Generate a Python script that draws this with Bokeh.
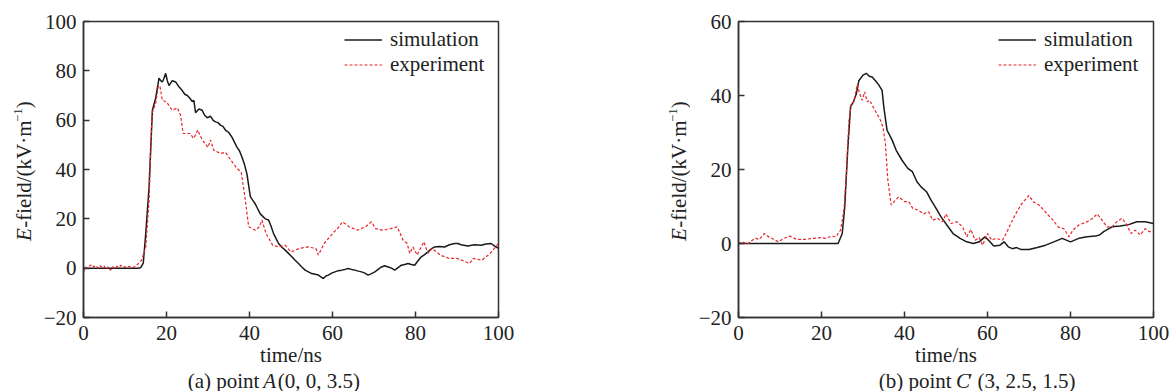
from bokeh.plotting import figure
from bokeh.layouts import row, column
from bokeh.models import Legend, LegendItem, Range1d, FixedTicker
from bokeh.core.properties import value
from bokeh.embed import file_html
from bokeh.resources import INLINE

# ---------------- data ----------------
x_ticks = [0, 20, 40, 60, 80, 100]
y_ticks_a = [-20, 0, 20, 40, 60, 80, 100]
y_ticks_b = [-20, 0, 20, 40, 60]

t_a_sim = [0, 13, 13.8, 14.4, 15, 15.8, 16.6, 17.4, 18.2, 18.6, 19, 19.4, 19.8, 20.2, 20.6, 21.4,
           22.2, 23, 23.8, 24.4, 25, 25.6, 26.2, 26.6, 27, 27.8, 28.6, 29.2, 29.8, 30.6, 31.2, 31.8,
           32.4, 33, 33.6, 34.2, 35, 35.8, 36.4, 37, 37.6, 38.2, 38.8, 39.4, 40.2, 40.8, 41.4, 42,
           42.6, 43.2, 43.8, 44.6, 45.2, 45.8, 46.4, 47, 47.8, 48.6, 49.4, 50.2, 51, 51.8, 52.6,
           53.4, 54.2, 55, 55.8, 56.6, 57.2, 57.8, 58.4, 59, 59.8, 60.6, 61.4, 62.2, 63, 63.8, 64.6,
           65.4, 66.2, 67, 67.8, 68.6, 69.4, 70.2, 71, 71.8, 72.6, 73.4, 74.2, 75, 75.8, 76.6, 77.4,
           78.2, 79, 79.8, 80.6, 81.4, 82.2, 83, 83.8, 84.6, 85.8, 87, 88.2, 89.4, 90.2, 91, 92.6,
           94.2, 95.8, 97, 98.2, 99, 100]
e_a_sim = [0, 0, 0.2, 2, 14, 33, 64, 69, 77, 76, 75.5, 77, 79, 76, 74, 76,
           75.5, 73.5, 72, 70.5, 70, 69, 67.5, 68, 63, 64.5, 64, 62, 61, 61.6, 60, 59.3,
           59, 58, 57.5, 56, 55, 53, 51, 49, 47.5, 45, 42, 38, 29, 27.5, 26, 24,
           22, 21, 20, 19.5, 17, 14, 12, 10, 8.5, 7.3, 6, 4.6, 3.2, 1.9, 0.5,
           -0.8, -1.5, -2.2, -2.5, -2.8, -3.5, -4.2, -3.2, -2.8, -2, -1.5, -1, -0.8, -0.5, -0.1, -0.5,
           -0.8, -1.2, -1.5, -2, -2.8, -2.2, -1.5, -0.5, 0.5, 1, 0.5, 0, -0.8, 0.2, 1.2, 1.5,
           1.9, 1.5, 1.2, 3, 4.6, 5.5, 6.6, 7.8, 8.6, 8.8, 8.6, 9.5, 10, 10, 9.5, 9,
           9.5, 9.3, 9.8, 10, 9, 8]

t_a_exp = [0, 0.5, 1, 1.5, 2, 2.5, 3, 3.5, 4, 4.5, 5, 5.5, 6, 6.5, 7, 7.5, 8, 8.5, 9, 9.5, 10,
           10.5, 11, 11.5, 12, 12.5, 13, 14, 15, 15.8, 16.5, 17.4, 18, 18.4, 19, 20, 21.4, 22.6,
           23.4, 24, 25.6, 26.6, 27.5, 28.6, 30, 30.6, 31.4, 33, 34.2, 35.5, 37, 38, 39, 39.8,
           41.4, 42.4, 43, 44, 45.6, 47, 48.6, 50, 52, 54, 56, 56.6, 58, 60, 61.6, 62.4, 64, 66,
           68, 69.4, 70.4, 72, 74, 75.6, 77, 78, 78.6, 79.4, 80.4, 82, 83, 84, 86, 88, 90, 92, 93,
           94, 96, 98, 100]
e_a_exp = [-1.5, 0.5, 0, 1, 1.5, 0.5, 1, 0, 1, 0.3, 0.8, -0.5, 0.5, -0.8, 0.6, 0, 0.8, 0.2, 1.2, 0.4, 0.6,
           0.2, 0.8, 0.4, 0.3, 0.8, 1.5, 3.2, 8.6, 27.6, 62.7, 66.8, 73.5, 74, 68, 67.4, 64, 65,
           62, 54.6, 54.6, 52.6, 56, 52, 49, 52, 47.8, 46.5, 47, 43.8, 40.4, 39, 27.6, 16.8,
           15.4, 16.8, 19.5, 14, 9.3, 8.6, 9.3, 6.6, 8, 8.6, 8, 5.3, 10, 14, 16.8, 18.8, 16.8, 15.4,
           16.8, 18.8, 16, 15.4, 16, 16.8, 11.4, 10, 6, 8.6, 5.3, 10.7, 6, 8, 5.3, 4, 4, 2.6, 1.9,
           4, 3.2, 6, 10]

t_b_sim = [0, 24, 25, 25.6, 26.3, 27, 27.7, 28.4, 29, 30, 30.8, 31.5, 32.2, 33, 33.7, 34.6, 35,
           35.8, 37, 38, 39.4, 40.8, 41.9, 43, 44, 45.3, 46.4, 47.4, 48.8, 50.2, 51.7, 53.4, 55,
           56.6, 58, 59.4, 60.6, 61.5, 63, 64, 65, 66, 67, 68, 70, 72, 74, 76, 78, 80, 82, 84, 86,
           87, 88, 90, 92, 94, 96, 98, 100]
e_b_sim = [0, 0, 2.7, 9.9, 25, 37, 38.3, 40.5, 44, 45.5, 46, 45.2, 45, 44, 43, 41.4, 37,
           30.6, 28, 25.2, 22.5, 20.3, 19.4, 16.7, 15.3, 14, 11.7, 9.9, 7.2, 5, 2.7, 1.4, 0.45,
           0, 0.45, 1.8, 0.45, -0.7, -0.45, 0.45, -0.9, -1.4, -1.1, -1.6, -1.6, -1.1, -0.45, 0.45,
           1.4, 0.45, 1.4, 1.8, 2, 2.3, 3.2, 4.5, 4.7, 5.1, 5.9, 5.9, 5.4]

t_b_exp = [0, 1, 2, 4, 5, 6.2, 7, 8, 9.6, 11, 12.4, 14, 16, 18, 20, 21, 22.4, 23.5, 24, 24.6,
           25.4, 26, 26.6, 27.2, 27.8, 28.2, 28.6, 29.2, 29.8, 30.4, 31, 31.6, 32.4, 33.4, 34.2,
           34.8, 35.4, 36, 36.8, 37.8, 38.6, 40, 41, 42, 43.4, 44.6, 45.8, 46.8, 48, 49.2, 50,
           51.2, 52.6, 54, 55, 56, 57, 58, 58.8, 60, 61, 62, 63.6, 64.5, 65.6, 66.8, 68, 69, 70,
           71, 72.4, 73.6, 74.6, 75.8, 77, 78.4, 79.6, 80.6, 82, 84, 85.4, 86.4, 87.6, 88.8, 90,
           91.2, 92.4, 93.4, 94.6, 95.6, 96.8, 98, 99, 100]
e_b_exp = [0, 0.5, -0.2, 1.4, 1.1, 2.7, 2, 1.4, 0.45, 1.4, 2, 1.1, 1.1, 1.4, 1.6, 1.4, 2, 1.8, 2.7, 3.6,
           9, 19, 33, 38, 38.3, 40.5, 43, 40.5, 38.7, 41, 38.3, 38.7, 37, 35, 33.3,
           31.5, 27, 17, 10.4, 11.7, 12.6, 11.3, 11.3, 9.5, 9, 8, 8.6, 6.3, 6.8, 5.9, 8,
           5.4, 5.9, 4.5, 1.8, 3.8, 0.9, 1.6, -0.45, 2.7, 0.9, 1.4, 0.9, 2.7, 5.4, 8, 10.4, 11.7, 13,
           11.3, 10.4, 9, 7.7, 6.3, 4.5, 4, 1.8, 3.6, 5, 5.9, 6.8, 8, 6.3, 4.5, 4.5,
           5.9, 6.8, 5.4, 2.7, 3.6, 2.3, 4, 3.2, 3.2]

series_labels = ["simulation", "experiment"]
y_title = ["E", "-field/(kV\u00b7m", "\u22121", ")"]
captions = [["(a) point", "A", "(0, 0, 3.5)"], ["(b) point", "C", "\u2032", "(3, 2.5, 1.5)"]]

# ---------------- style ----------------
FONT = "Liberation Serif"
FS = "21px"
SIM_COLOR = "#1a1a1a"
EXP_COLOR = "#e8262b"
AX_COLOR = "#333333"
TXT_COLOR = "#222222"
H = 391
PLOT_H = 369
CAP_H = H - PLOT_H


def blank_fig(w, h):
    f = figure(width=w, height=h, x_range=Range1d(0, w), y_range=Range1d(0, h),
               output_backend="svg", toolbar_location=None, x_axis_type=None, y_axis_type=None,
               min_border_left=0, min_border_right=0, min_border_top=0, min_border_bottom=0)
    f.grid.visible = False
    f.outline_line_color = None
    f.background_fill_color = "white"
    f.border_fill_color = "white"
    return f


def txt(f, x, y, s, size=FS, style="normal", angle=0.0, align="left"):
    f.text(x=[x], y=[y], text=[s], text_font=value(FONT), text_font_size=value(size),
           text_font_style=style, text_color=TXT_COLOR, text_align=align,
           text_baseline="middle", angle=angle)


def y_title_fig(w, xc):
    f = blank_fig(w, H)
    y0 = H - 240
    a = 1.5707963
    txt(f, xc, y0 + 12.3, y_title[0], style="italic", angle=a, align="right")
    txt(f, xc, y0 + 12.8, y_title[1], angle=a)
    txt(f, xc - 6, y0 + 118.4, y_title[2], size="13px", angle=a)
    txt(f, xc, y0 + 132.2, y_title[3], angle=a)
    return f


def caption_fig(w, cap, xs):
    # xs: right edge of first piece, then left edges of the following pieces
    f = blank_fig(w, CAP_H)
    yc = CAP_H - 11
    txt(f, xs[0], yc, cap[0], align="right")
    txt(f, xs[1], yc, cap[1], style="italic")
    for s, x in zip(cap[2:], xs[2:]):
        txt(f, x, yc, s)
    return f


def make_fig(width, b_left, b_right, y_lo, y_hi, y_ticks, ts, es, te, ee, leg_x):
    p = figure(width=width, height=PLOT_H, x_range=Range1d(0, 100), y_range=Range1d(y_lo, y_hi),
               output_backend="svg", toolbar_location=None,
               min_border_left=b_left, min_border_right=b_right, min_border_top=21,
               min_border_bottom=PLOT_H - 317)
    p.grid.visible = False
    p.outline_line_color = AX_COLOR
    p.outline_line_width = 1.5
    p.outline_line_alpha = 1
    p.background_fill_color = "white"
    p.border_fill_color = "white"
    for ax, ticks in ((p.xaxis[0], x_ticks), (p.yaxis[0], y_ticks)):
        ax.ticker = FixedTicker(ticks=ticks)
        ax.major_tick_in = 6
        ax.major_tick_out = 0
        ax.minor_tick_line_color = None
        ax.axis_line_color = AX_COLOR
        ax.axis_line_width = 1.5
        ax.major_tick_line_color = AX_COLOR
        ax.major_tick_line_width = 1.5
        ax.major_label_text_font = FONT
        ax.major_label_text_font_size = FS
        ax.major_label_text_color = TXT_COLOR
    p.yaxis[0].major_label_standoff = 7
    p.yaxis[0].major_label_overrides = {-20: "\u221220"}
    p.xaxis[0].major_label_standoff = 8
    p.xaxis[0].axis_label = "time/ns"
    p.xaxis[0].axis_label_text_font = FONT
    p.xaxis[0].axis_label_text_font_size = FS
    p.xaxis[0].axis_label_text_font_style = "normal"
    p.xaxis[0].axis_label_text_color = TXT_COLOR
    p.xaxis[0].axis_label_standoff = 0

    r_sim = p.line(ts, es, line_color=SIM_COLOR, line_width=1.5)
    r_exp = p.line(te, ee, line_color=EXP_COLOR, line_width=1.2, line_dash="3 2")

    leg = Legend(items=[LegendItem(label=series_labels[0], renderers=[r_sim]),
                        LegendItem(label=series_labels[1], renderers=[r_exp])],
                 location=(leg_x, 235), border_line_alpha=0, background_fill_alpha=0,
                 label_text_font=FONT, label_text_font_size=FS, label_text_color=TXT_COLOR,
                 glyph_width=38, glyph_height=21, label_height=21, spacing=-4, padding=5,
                 margin=0, label_standoff=8)
    p.add_layout(leg, "center")
    return p


# left panel: y-title strip 0..40, plot 40..585 (frame 81..498)
yt1 = y_title_fig(40, 23)
p1 = make_fig(545, 41, 87, -20, 100, y_ticks_a, t_a_sim, e_a_sim, t_a_exp, e_a_exp, 256)
c1 = caption_fig(545, captions[0], [231, 236, 255])

# right panel: y-title strip 585..690, plot 690..1171 (frame 738..1153)
yt2 = y_title_fig(105, 93)
p2 = make_fig(481, 48, 18, -20, 60, y_ticks_b, t_b_sim, e_b_sim, t_b_exp, e_b_exp, 255)
c2 = caption_fig(481, captions[1], [247, 252, 266, 277])

layout = row(yt1, column(p1, c1), yt2, column(p2, c2))
open("out.html", "w").write(file_html(layout, INLINE))
